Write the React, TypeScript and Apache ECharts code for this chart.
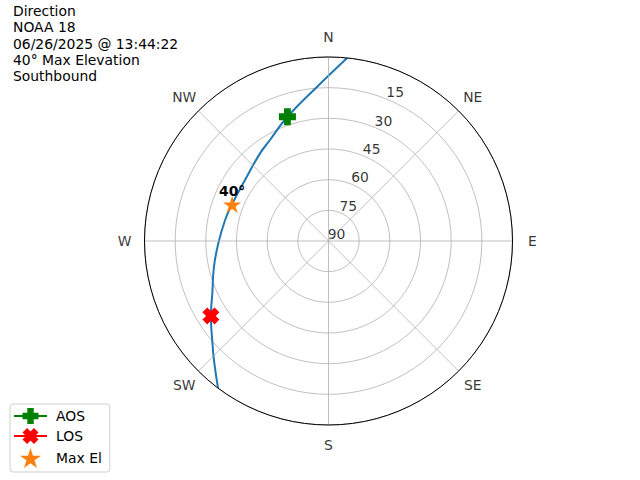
import React, { useEffect, useRef } from 'react';
import * as echarts from 'echarts';

const titleLines = ['Direction', 'NOAA 18', '06/26/2025 @ 13:44:22', '40° Max Elevation', 'Southbound'];
const directions = ['N', 'NE', 'E', 'SE', 'S', 'SW', 'W', 'NW'];
const directionAngles = [0, 45, 90, 135, 180, 225, 270, 315];
const elevationTicks = [15, 30, 45, 60, 75, 90];
const trackAz = [5.8, 355.9, 341.7, 329.9, 322.0, 306.2, 290.7, 281.5, 268.8, 257.4, 245.8, 237.5, 229.6, 223.9, 216.9];
const trackEl = [0, 14.2, 26.0, 32.9, 35.6, 39.4, 39.5, 38.4, 36.1, 32.6, 27.7, 21.8, 15.3, 9.2, 0];
const aosPoint = [26.0, 341.7];
const losPoint = [21.8, 237.5];
const maxElPoint = [39.6, 290.7];
const maxElText = '40°';
const legendNames = ['AOS', 'LOS', 'Max El'];

const FONT = 'DejaVu Sans';
const FS = 13.9;

const plusPath = 'path://M-1.2,-3L1.2,-3L1.2,-1.2L3,-1.2L3,1.2L1.2,1.2L1.2,3L-1.2,3L-1.2,1.2L-3,1.2L-3,-1.2L-1.2,-1.2Z';
const xPath = 'path://M1.273,-2.97L2.97,-1.273L1.697,0L2.97,1.273L1.273,2.97L0,1.697L-1.273,2.97L-2.97,1.273L-1.697,0L-2.97,-1.273L-1.273,-2.97L0,-1.697Z';
const starPath = 'path://M0,-1L0.2245,-0.309L0.951,-0.309L0.363,0.118L0.588,0.809L0,0.382L-0.588,0.809L-0.363,0.118L-0.951,-0.309L-0.2245,-0.309Z';

export default function App() {
  const ref = useRef<HTMLDivElement>(null);
  useEffect(() => {
    if (!ref.current) return;
    const chart = echarts.init(ref.current, null, { renderer: 'svg' });
    const center = [328.5, 241];
    chart.setOption({
      animation: false,
      textStyle: { fontFamily: FONT },
      title: {
        text: titleLines.join('\n'),
        left: 13,
        top: 3,
        padding: 0,
        textStyle: { fontFamily: FONT, fontSize: FS, fontWeight: 'normal', lineHeight: 16.2, color: '#000' },
      },
      polar: [
        { center, radius: 184 },
        { center, radius: 204 },
      ],
      angleAxis: [
        {
          polarIndex: 0, type: 'value', min: 0, max: 360, interval: 45, startAngle: 90, clockwise: true, z: 3,
          axisLine: { show: true, lineStyle: { color: '#000', width: 1 } },
          axisTick: { show: false },
          axisLabel: { show: false },
          splitLine: { show: true, lineStyle: { color: '#b0b0b0', width: 0.8 } },
        },
        { polarIndex: 1, type: 'value', min: 0, max: 360, startAngle: 90, clockwise: true, show: false },
      ],
      radiusAxis: [
        {
          polarIndex: 0, type: 'value', min: 0, max: 90, interval: 15, inverse: true, z: 1,
          axisLine: { show: false }, axisTick: { show: false }, axisLabel: { show: false },
          splitLine: { show: true, lineStyle: { color: '#b0b0b0', width: 0.8 } },
        },
        { polarIndex: 1, type: 'value', min: 0, max: 1, show: false },
      ],
      legend: {
        data: legendNames,
        orient: 'vertical',
        left: 10,
        bottom: 8,
        padding: [4, 8, 4, 3],
        itemGap: 4,
        itemWidth: 33,
        itemHeight: 20,
        borderColor: '#d0d0d0',
        borderWidth: 1,
        borderRadius: 3,
        backgroundColor: '#fff',
        textStyle: { fontFamily: FONT, fontSize: FS, color: '#000', padding: [0, 0, 0, 4] },
      },
      series: [
        {
          type: 'line', coordinateSystem: 'polar', polarIndex: 0, name: 'track',
          data: trackEl.map((e, i) => [e, trackAz[i]]),
          symbol: 'none', showSymbol: false, smooth: 0.45, silent: true, z: 2,
          lineStyle: { color: '#1f77b4', width: 2 },
        },
        {
          type: 'line', coordinateSystem: 'polar', polarIndex: 0, name: 'AOS',
          data: [aosPoint], symbol: plusPath, symbolSize: 17, z: 4,
          itemStyle: { color: '#008000', opacity: 1 }, lineStyle: { color: '#008000', width: 2 },
        },
        {
          type: 'line', coordinateSystem: 'polar', polarIndex: 0, name: 'LOS',
          data: [losPoint], symbol: xPath, symbolSize: 17, z: 4,
          itemStyle: { color: '#ff0000', opacity: 1 }, lineStyle: { color: '#ff0000', width: 2 },
        },
        {
          type: 'scatter', coordinateSystem: 'polar', polarIndex: 0, name: 'Max El',
          data: [maxElPoint], symbol: starPath, symbolSize: [18, 17], z: 4,
          itemStyle: { color: '#ff7f0e', opacity: 1 },
          label: {
            show: true, formatter: maxElText, position: 'top', distance: -2,
            fontFamily: FONT, fontSize: FS, fontWeight: 'bold', color: '#000',
          },
        },
        {
          type: 'scatter', coordinateSystem: 'polar', polarIndex: 0, name: 'rlabels', silent: true,
          data: elevationTicks.map((e) => [e, 22.5]), symbolSize: 1,
          itemStyle: { color: 'rgba(0,0,0,0)' },
          label: {
            show: true, position: 'inside', offset: [8, -7],
            formatter: (p: any) => String(p.value[0]),
            fontFamily: FONT, fontSize: FS, color: '#000',
          },
        },
        {
          type: 'scatter', coordinateSystem: 'polar', polarIndex: 1, name: 'dirlabels', silent: true,
          data: directionAngles.map((a) => [1, a]), symbolSize: 1,
          itemStyle: { color: 'rgba(0,0,0,0)' },
          label: {
            show: true, position: 'inside',
            formatter: (p: any) => directions[p.dataIndex],
            fontFamily: FONT, fontSize: FS, color: '#000',
          },
        },
      ],
    });
    return () => chart.dispose();
  }, []);
  return <div ref={ref} style={{ position: 'absolute', left: 0, top: 0, width: 640, height: 480 }} />;
}
